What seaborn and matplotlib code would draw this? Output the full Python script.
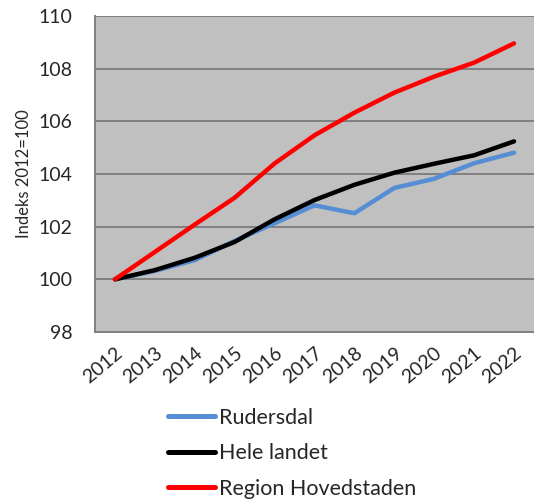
import numpy as np
import matplotlib
matplotlib.use("Agg")
import matplotlib.pyplot as plt
import pandas as pd
import seaborn as sns

# data
years = [2012, 2013, 2014, 2015, 2016, 2017, 2018, 2019, 2020, 2021, 2022]
rudersdal = [100.0, 100.32, 100.73, 101.46, 102.13, 102.81, 102.51, 103.47, 103.82, 104.41, 104.81]
hele_landet = [100.0, 100.35, 100.82, 101.42, 102.28, 103.01, 103.59, 104.05, 104.39, 104.71, 105.24]
hovedstaden = [100.0, 101.04, 102.08, 103.1, 104.4, 105.47, 106.33, 107.09, 107.7, 108.23, 108.96]
series_names = ["Rudersdal", "Hele landet", "Region Hovedstaden"]
colors = ["#558ED5", "#000000", "#FF0000"]

df = pd.DataFrame({
    "year": years * 3,
    "value": rudersdal + hele_landet + hovedstaden,
    "serie": [series_names[0]] * len(years) + [series_names[1]] * len(years) + [series_names[2]] * len(years),
})

sns.set_style("white")
plt.rcParams['font.family'] = ['Lato', 'DejaVu Sans']

fig = plt.figure(figsize=(5.34, 5.03), dpi=100)
ax = fig.add_axes([95 / 534, 1 - 332 / 503, 1 - 95 / 534, (332 - 16) / 503])
ax.set_facecolor("#C0C0C0")

sns.lineplot(data=df, x="year", y="value", hue="serie", palette=colors,
             hue_order=series_names, linewidth=3.2, ax=ax, legend=False)

ax.set_ylim(98, 110)
ax.set_yticks(np.arange(98, 111, 2))
ax.set_xlim(2011.5, 2022.5)
ax.set_xticks(years)
ax.set_xticklabels([str(y) for y in years], rotation=40, ha="right",
                   rotation_mode="anchor", fontsize=14)
ax.set_xticks(np.arange(2011.5, 2022.6, 1), minor=True)
ax.tick_params(axis="x", which="major", length=0, pad=9)
ax.tick_params(axis="x", which="minor", length=5, color="#808080", width=1.2)
ax.tick_params(axis="y", length=6, color="#808080", width=1.2, labelsize=14, pad=10)
ax.grid(axis="y", color="#808080", linewidth=1.4)
ax.set_axisbelow(True)
for s in ["top", "right"]:
    ax.spines[s].set_visible(False)
for s in ["left", "bottom"]:
    ax.spines[s].set_color("#808080")
    ax.spines[s].set_linewidth(1.4)

ax.set_xlabel("")
ax.set_ylabel("Indeks 2012=100", fontsize=12, labelpad=5)

handles = [plt.Line2D([], [], color=c, linewidth=3.6) for c in colors]
fig.legend(handles, series_names, loc="upper left", bbox_to_anchor=(157 / 534, 1 - 397 / 503),
           frameon=False, fontsize=15.5, handlelength=2.2, handletextpad=0.2,
           labelspacing=0.72, borderpad=0)

fig.savefig("out.png", dpi=100)
